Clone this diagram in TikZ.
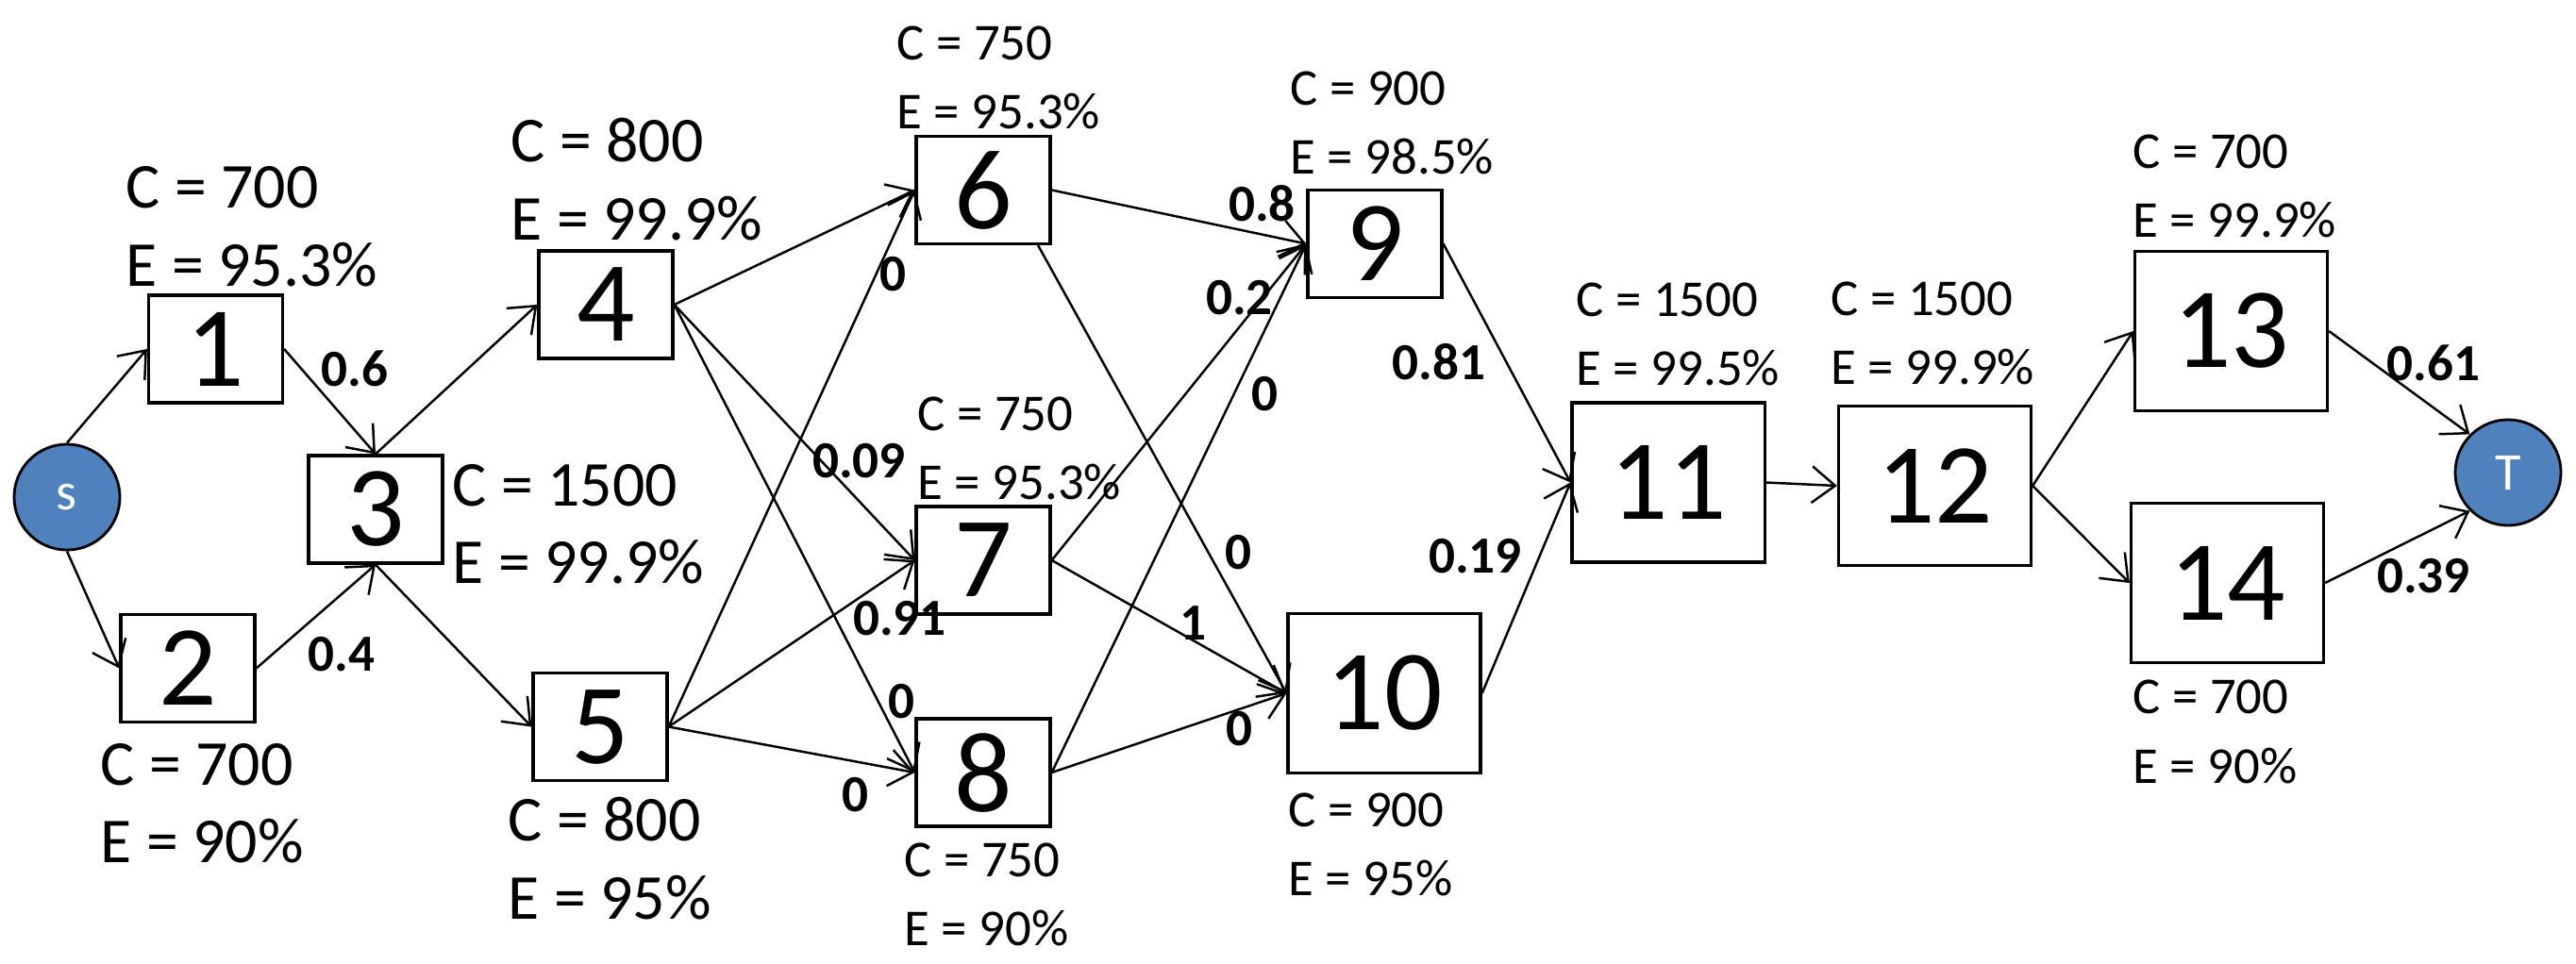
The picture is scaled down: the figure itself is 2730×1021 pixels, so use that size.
\documentclass[tikz,border=0pt]{standalone}
\usepackage{fontspec}
\setmainfont{Carlito}
\usetikzlibrary{arrows.meta,calc}
\definecolor{nodeblue}{HTML}{4F81BD}
\begin{document}
\begin{tikzpicture}[x=0.01cm, y=-0.01cm,
  box/.style={draw, line width=0.9pt, minimum width=1.42cm, minimum height=1.14cm, inner sep=0pt, font=\fontsize{34.5}{40}\selectfont},
  bigbox/.style={box, minimum width=2.04cm, minimum height=1.69cm},
  term/.style={circle, draw=black, fill=nodeblue, text=white, line width=0.8pt, minimum size=1.12cm, inner sep=0pt, font=\fontsize{16}{19}\selectfont},
  conn/.style={-{Straight Barb[length=7pt,width=11pt]}, line width=0.7pt},
  lblA/.style={anchor=base west, inner sep=0pt, font=\fontsize{19.3}{23}\selectfont},
  lblB/.style={anchor=base west, inner sep=0pt, font=\fontsize{15.6}{19}\selectfont},
  wt/.style={inner sep=0pt, font=\bfseries\fontsize{15.7}{19}\selectfont}]
\useasboundingbox (0,0) rectangle (2730,1021);

% terminal nodes
\node[term] (s) at (71,527) {s};
\node[term] (t) at (2658,501) {T};

% process boxes
\node[box] (n1) at (228.5,370) {1};
\node[box] (n2) at (199,708.5) {2};
\node[box] (n3) at (398,540) {3};
\node[box] (n4) at (642,323) {4};
\node[box] (n5) at (636,770.5) {5};
\node[box] (n6) at (1042,201.5) {6};
\node[box] (n7) at (1042,594) {7};
\node[box] (n8) at (1042,819) {8};
\node[box] (n9) at (1457,258.5) {9};
\node[bigbox] (n10) at (1467,735) {10};
\node[bigbox] (n11) at (1768,511.5) {11};
\node[bigbox] (n12) at (2050.5,515) {12};
\node[bigbox] (n13) at (2364.5,351) {13};
\node[bigbox] (n14) at (2360.5,618) {14};

% C / E labels
\node[lblA] (c1) at (133,220) {C = 700};
\node[lblA] (e1) at (133,303) {E = 95.3\%};
\node[lblA] (c2) at (106,832) {C = 700};
\node[lblA] (e2) at (106,914) {E = 90\%};
\node[lblA] (c3) at (479,536) {C = 1500};
\node[lblA] (e3) at (479,618) {E = 99.9\%};
\node[lblA] (c4) at (541,171) {C = 800};
\node[lblA] (e4) at (541,254) {E = 99.9\%};
\node[lblA] (c5) at (538,891) {C = 800};
\node[lblA] (e5) at (538,974) {E = 95\%};
\node[lblB] (c6) at (950,63) {C = 750};
\node[lblB] (e6) at (950,136) {E = 95.3\%};
\node[lblB] (c7) at (972,456) {C = 750};
\node[lblB] (e7) at (972,529) {E = 95.3\%};
\node[lblB] (c8) at (958,929) {C = 750};
\node[lblB] (e8) at (958,1002) {E = 90\%};
\node[lblB] (c9) at (1367,111) {C = 900};
\node[lblB] (e9) at (1367,184) {E = 98.5\%};
\node[lblB] (c10) at (1365,876) {C = 900};
\node[lblB] (e10) at (1365,949) {E = 95\%};
\node[lblB] (c11) at (1670,335) {C = 1500};
\node[lblB] (e11) at (1670,408) {E = 99.5\%};
\node[lblB] (c12) at (1940,334) {C = 1500};
\node[lblB] (e12) at (1940,407) {E = 99.9\%};
\node[lblB] (c13) at (2260,178) {C = 700};
\node[lblB] (e13) at (2260,251) {E = 99.9\%};
\node[lblB] (c14) at (2260,756) {C = 700};
\node[lblB] (e14) at (2260,830) {E = 90\%};

% connectors
\draw[conn] (s.north) -- (n1.west);
\draw[conn] (s.south) -- (n2.west);
\draw[conn] (n1.east) -- (n3.north);
\draw[conn] (n2.east) -- (n3.south);
\draw[conn] (n3.north) -- (n4.west);
\draw[conn] (n3.south) -- (n5.west);
\draw[conn] (n4.east) -- (n6.west);
\draw[conn] (n4.east) -- (n7.west);
\draw[conn] (n4.east) -- (n8.west);
\draw[conn] (n5.east) -- (n6.west);
\draw[conn] (n5.east) -- (n7.west);
\draw[conn] (n5.east) -- (n8.west);
\draw[conn] (n6.east) -- (n9.west);
\draw[conn] ($(n6.south)!0.8!(n6.south east)$) -- (n10.west);
\draw[conn] (n7.east) -- (n9.west);
\draw[conn] (n7.east) -- (n10.west);
\draw[conn] (n8.east) -- (n9.west);
\draw[conn] (n8.east) -- (n10.west);
\draw[conn] (n9.east) -- (n11.west);
\draw[conn] (n10.east) -- (n11.west);
\draw[conn] (n11.east) -- (n12.west);
\draw[conn] (n12.east) -- (n13.west);
\draw[conn] (n12.east) -- (n14.west);
\draw[conn] (n13.east) -- (t.north west);
\draw[conn] (n14.east) -- (t.south west);

% edge weights
\node[wt] (w13) at (376,390.5) {0.6};
\node[wt] (w23) at (362,694) {0.4};
\node[wt] (w56) at (946.5,291) {0};
\node[wt] (w69) at (1337.5,215.5) {0.8};
\node[wt] (w79) at (1313.5,315.5) {0.2};
\node[wt] (w911) at (1525,383.5) {0.81};
\node[wt] (w89) at (1340.5,417.5) {0};
\node[wt] (w47) at (910.5,488.5) {0.09};
\node[wt] (w57) at (953.5,656) {0.91};
\node[wt] (w710) at (1264.5,660.5) {1};
\node[wt] (w610) at (1312,585.5) {0};
\node[wt] (w1011) at (1563.5,589.5) {0.19};
\node[wt] (w48) at (955,744) {0};
\node[wt] (w58) at (906.5,842.5) {0};
\node[wt] (w810) at (1313.5,773) {0};
\node[wt] (w13t) at (2579,385) {0.61};
\node[wt] (w14t) at (2568.5,610.5) {0.39};
\end{tikzpicture}
\end{document}
